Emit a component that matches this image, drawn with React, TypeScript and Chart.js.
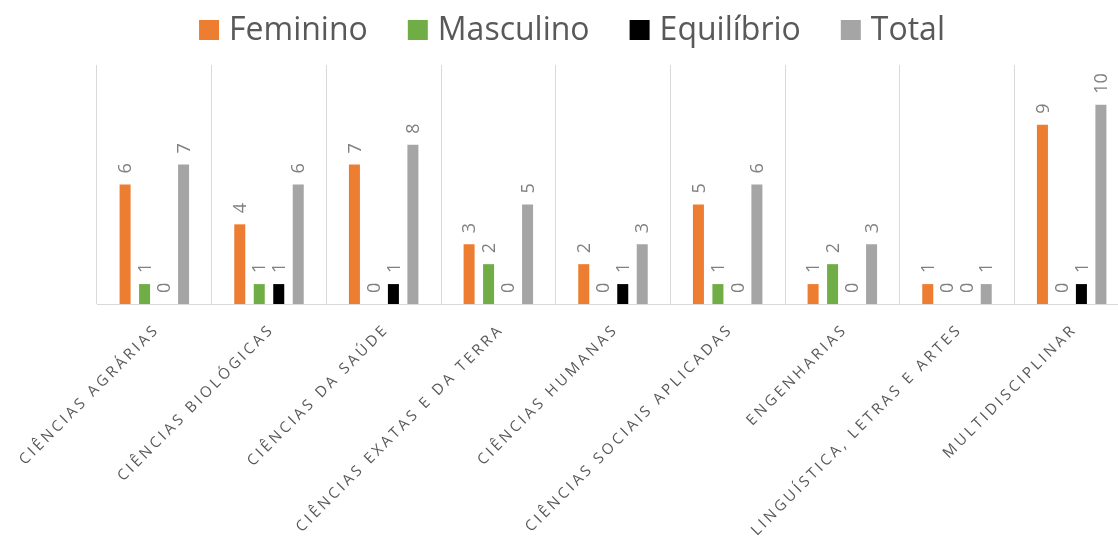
import React, { useEffect, useRef } from "react";
import { Chart, registerables } from "chart.js";

Chart.register(...registerables);

const categories = [
  "CIÊNCIAS AGRÁRIAS",
  "CIÊNCIAS BIOLÓGICAS",
  "CIÊNCIAS DA SAÚDE",
  "CIÊNCIAS EXATAS E DA TERRA",
  "CIÊNCIAS HUMANAS",
  "CIÊNCIAS SOCIAIS APLICADAS",
  "ENGENHARIAS",
  "LINGUÍSTICA, LETRAS E ARTES",
  "MULTIDISCIPLINAR",
];
const feminino = [6, 4, 7, 3, 2, 5, 1, 1, 9];
const masculino = [1, 1, 0, 2, 0, 1, 2, 0, 0];
const equilibrio = [0, 1, 1, 0, 1, 0, 0, 0, 1];
const total = [7, 6, 8, 5, 3, 6, 3, 1, 10];
const seriesNames = ["Feminino", "Masculino", "Equilíbrio", "Total"];
const seriesColors = ["#ED7D31", "#70AD47", "#000000", "#A5A5A5"];
const seriesValues = [feminino, masculino, equilibrio, total];

const FONT = '"Open Sans", "Noto Sans", sans-serif';

const valueLabels = {
  id: "valueLabels",
  afterDatasetsDraw(chart: any) {
    const ctx = chart.ctx;
    ctx.save();
    ctx.font = `18px ${FONT}`;
    ctx.fillStyle = "#808080";
    ctx.textAlign = "left";
    ctx.textBaseline = "middle";
    chart.data.datasets.forEach((ds: any, di: number) => {
      const meta = chart.getDatasetMeta(di);
      meta.data.forEach((el: any, i: number) => {
        ctx.save();
        ctx.translate(el.x + 1, el.y - 11);
        ctx.rotate(-Math.PI / 2);
        ctx.fillText(String(ds.data[i]), 0, 0);
        ctx.restore();
      });
    });
    ctx.restore();
  },
};

const xLabels = {
  id: "xLabels",
  afterDraw(chart: any) {
    const ctx = chart.ctx;
    const xs = chart.scales.x;
    ctx.save();
    ctx.font = `15px ${FONT}`;
    (ctx as any).letterSpacing = "3.1px";
    ctx.fillStyle = "#595959";
    ctx.textAlign = "right";
    ctx.textBaseline = "middle";
    chart.data.labels.forEach((lab: string, i: number) => {
      const x = xs.getPixelForValue(i);
      ctx.save();
      ctx.translate(x + 3, xs.bottom + 23);
      ctx.rotate(-Math.PI / 4);
      ctx.fillText(lab, 0, 0);
      ctx.restore();
    });
    ctx.restore();
  },
};

const customLegend = {
  id: "customLegend",
  afterDraw(chart: any) {
    const ctx = chart.ctx;
    ctx.save();
    ctx.font = `32px ${FONT}`;
    ctx.textBaseline = "middle";
    ctx.textAlign = "left";
    const box = 20;
    const gapText = 10;
    const gapItem = 40;
    const widths = seriesNames.map((n) => box + gapText + ctx.measureText(n).width);
    const totalW = widths.reduce((a, b) => a + b, 0) + gapItem * (seriesNames.length - 1);
    let x = 572 - totalW / 2;
    const cy = 30;
    seriesNames.forEach((n, i) => {
      ctx.fillStyle = seriesColors[i];
      ctx.fillRect(x, cy - box / 2, box, box);
      ctx.fillStyle = "#595959";
      ctx.fillText(n, x + box + gapText, cy + 1);
      x += widths[i] + gapItem;
    });
    ctx.restore();
  },
};

export default function App() {
  const ref = useRef<HTMLCanvasElement>(null);
  useEffect(() => {
    if (!ref.current) return;
    const chart = new Chart(ref.current, {
      type: "bar",
      data: {
        labels: categories,
        datasets: seriesNames.map((n, i) => ({
          label: n,
          data: seriesValues[i],
          backgroundColor: seriesColors[i],
          categoryPercentage: 0.68,
          barPercentage: 0.565,
        })),
      },
      options: {
        responsive: false,
        animation: false,
        layout: { padding: { left: 97, right: 13, top: 65, bottom: 233 } },
        plugins: {
          legend: { display: false },
          tooltip: { enabled: false },
        },
        scales: {
          x: {
            grid: { display: true, color: "#D9D9D9", lineWidth: 1, drawTicks: false, offset: true },
            border: { display: true, color: "#D9D9D9" },
            ticks: { display: false },
          },
          y: {
            display: false,
            min: 0,
            max: 12,
          },
        },
      },
      plugins: [valueLabels, xLabels, customLegend],
    });
    return () => chart.destroy();
  }, []);
  return (
    <div
      style={{
        position: "fixed",
        left: 0,
        top: 0,
        width: 1118,
        height: 537,
        overflow: "hidden",
        background: "#fff",
      }}
    >
      <canvas ref={ref} width={1142} height={537} style={{ display: "block" }} />
    </div>
  );
}
